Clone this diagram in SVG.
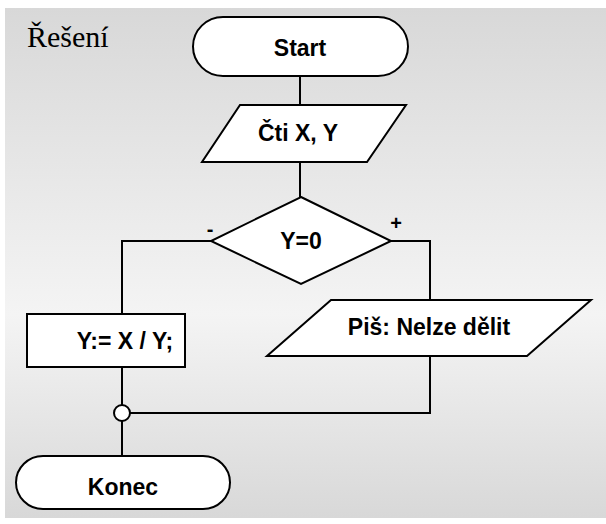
<svg xmlns="http://www.w3.org/2000/svg" width="606" height="524" viewBox="0 0 606 524">
  <style>
    .shape { fill: #ffffff; stroke: #000000; stroke-width: 2; stroke-linejoin: miter; }
    .wire { fill: none; stroke: #000000; stroke-width: 2; }
    .label { font-family: "Liberation Sans", Arial, sans-serif; font-weight: bold; font-size: 23px; fill: #000000; text-anchor: middle; }
    .branch { font-family: "Liberation Sans", Arial, sans-serif; font-weight: bold; font-size: 20px; fill: #000000; text-anchor: middle; }
    .title { font-family: "Liberation Serif", "Times New Roman", serif; font-size: 30px; fill: #000000; }
  </style>
  <defs>
    <linearGradient id="bgGrad" x1="0" y1="0" x2="0" y2="1">
      <stop offset="0" stop-color="#d8d8d8"/>
      <stop offset="0.6" stop-color="#f4f4f4"/>
      <stop offset="1" stop-color="#d8d8d8"/>
    </linearGradient>
  </defs>

  <!-- page background -->
  <rect x="0" y="0" width="606" height="524" fill="#ffffff"/>
  <rect x="5" y="8" width="601" height="510" fill="url(#bgGrad)"/>

  <text class="title" x="27" y="47">Řešení</text>

  <!-- connectors -->
  <g id="connectors">
    <line class="wire" x1="300" y1="76" x2="300" y2="105"/>
    <line class="wire" x1="300" y1="162" x2="300" y2="197"/>
    <polyline class="wire" points="211,241 122,241 122,314"/>
    <polyline class="wire" points="391,241 430,241 430,300"/>
    <line class="wire" x1="122" y1="367" x2="122" y2="405"/>
    <polyline class="wire" points="430,356 430,413 130,413"/>
    <line class="wire" x1="122" y1="421" x2="122" y2="456"/>
    <text class="branch" x="210" y="236">-</text>
    <text class="branch" x="396" y="230">+</text>
  </g>

  <g id="start">
    <rect class="shape" x="193" y="17" width="215" height="59" rx="30" ry="29.5"/>
    <text class="label" x="300" y="56">Start</text>
  </g>

  <g id="read">
    <polygon class="shape" points="240,105 406,105 367,162 202,162"/>
    <text class="label" x="298" y="141">Čti X, Y</text>
  </g>

  <g id="decision">
    <polygon class="shape" points="301,197 391,241 301,284 211,241"/>
    <text class="label" x="301" y="249">Y=0</text>
  </g>

  <g id="divide">
    <rect class="shape" x="27" y="314" width="158" height="53"/>
    <text class="label" x="125" y="349">Y:= X / Y;</text>
  </g>

  <g id="write">
    <polygon class="shape" points="331,300 591,300 527,356 267,356"/>
    <text class="label" x="429" y="335">Piš: Nelze dělit</text>
  </g>

  <g id="join">
    <circle class="shape" cx="122" cy="413" r="8"/>
  </g>

  <g id="end">
    <rect class="shape" x="16" y="456" width="214" height="53" rx="27" ry="26.5"/>
    <text class="label" x="123" y="495">Konec</text>
  </g>
</svg>
